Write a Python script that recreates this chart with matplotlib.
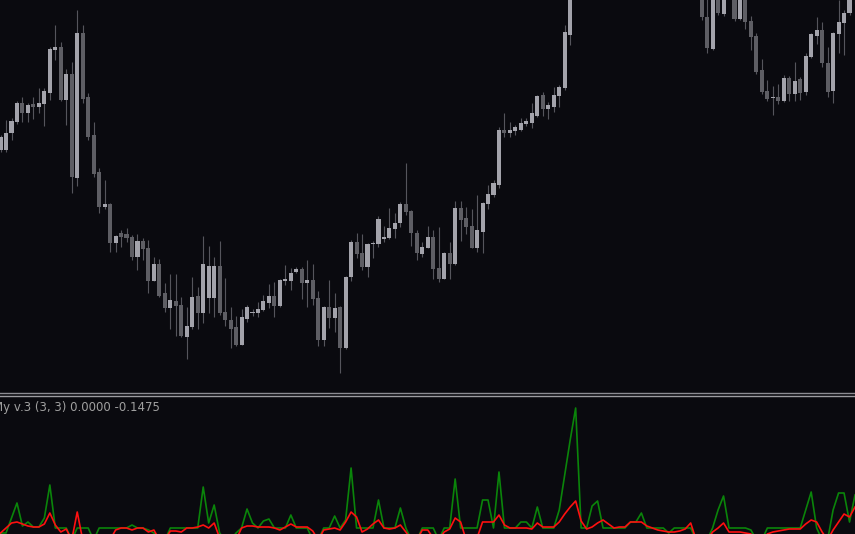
import matplotlib
matplotlib.use("Agg")
import matplotlib.pyplot as plt
from matplotlib.lines import Line2D
import numpy as np

# candle prices (arbitrary units), one entry per bar
opens = [250, 250, 267, 278, 297, 287, 296, 293, 296, 307,
         350, 353, 300, 326, 222, 367, 303, 265, 228, 193,
         196, 157, 167, 166, 163, 143, 159, 152, 119, 136,
         107, 92, 99, 95, 63, 73, 104, 87, 102, 102,
         134, 88, 80, 73, 55, 81, 87, 87, 90, 97,
         104, 94, 119, 119, 128, 131, 117, 120, 102, 60,
         93, 82, 93, 52, 123, 158, 147, 133, 156, 156,
         161, 162, 171, 177, 196, 189, 167, 146, 152, 163,
         132, 121, 147, 136, 192, 182, 174, 152, 168, 196,
         205, 215, 270, 267, 269, 270, 276, 277, 284, 305,
         291, 293, 304, 312, 365, 410, 440, 452, 445, 462,
         470, 458, 466, 480, 474, 468, 485, 478, 470, 462,
         471, 460, 448, 455, 444, 436, 442, 430, 415, 383,
         351, 410, 386, 412, 410, 381, 412, 379, 364, 330,
         309, 302, 303, 299, 322, 306, 321, 308, 343, 364,
         370, 337, 309, 366, 377, 387, 400]
closes = [263, 267, 279, 297, 287, 295, 293, 297, 309, 351,
          353, 300, 326, 223, 367, 301, 263, 226, 193, 196,
          157, 164, 163, 162, 143, 159, 151, 119, 136, 104,
          92, 100, 94, 64, 74, 103, 87, 136, 134, 134,
          87, 80, 71, 55, 83, 93, 88, 91, 99, 104,
          94, 120, 121, 127, 131, 117, 120, 101, 60, 93,
          82, 92, 52, 123, 158, 146, 133, 156, 157, 181,
          163, 172, 177, 196, 188, 167, 147, 153, 163, 131,
          121, 147, 136, 192, 180, 173, 152, 170, 197, 206,
          217, 270, 267, 270, 273, 277, 279, 287, 304, 291,
          295, 305, 313, 368, 410, 440, 452, 445, 462, 470,
          458, 466, 480, 474, 468, 485, 478, 470, 462, 471,
          460, 448, 455, 444, 436, 442, 430, 420, 383, 352,
          408, 387, 412, 420, 381, 409, 378, 363, 328, 308,
          301, 302.5, 299, 322, 306, 319, 307, 344, 366, 370,
          337, 308, 367, 378, 387, 402, 415]
highs = [265, 280, 282, 299, 303, 297, 303, 312, 312, 353,
         375, 358, 331, 338, 390, 375, 307, 278, 232, 220,
         197, 165, 170, 172, 165, 166, 162, 160, 143, 141,
         117, 126, 126, 103, 93, 123, 113, 164, 154, 143,
         159, 122, 93, 84, 91, 95, 91, 98, 105, 116,
         118, 121, 135, 132, 133, 133, 140, 136, 109, 94,
         120, 107, 94, 124, 160, 167, 166, 157, 159, 184,
         174, 192, 187, 198, 237, 190, 170, 158, 174, 170,
         173, 148, 158, 199, 199, 193, 191, 205, 198, 215,
         220, 273, 287, 278, 275, 282, 282, 297, 305, 308,
         298, 313, 315, 375, 420, 446, 458, 460, 468, 478,
         474, 471, 486, 488, 479, 490, 492, 482, 476, 477,
         474, 464, 460, 459, 450, 447, 446, 434, 420, 405,
         412, 413, 416, 424, 414, 412, 415, 384, 367, 341,
         320, 314, 316, 325, 324, 338, 323, 347, 367, 383,
         378, 353, 368, 400, 390, 408, 418]
lows = [248, 248, 260, 276, 278, 278, 281, 287, 274, 300,
        340, 299, 275, 207, 214, 297, 260, 223, 187, 191,
        148, 148, 153, 158, 140, 130, 140, 107, 119, 103,
        88, 71, 64, 63, 41, 71, 71, 77, 87, 83,
        85, 74, 52, 54, 55, 78, 84, 83, 89, 92,
        83, 93, 115, 110, 127, 101, 93, 95, 54, 54,
        72, 68, 27, 51, 119, 142, 130, 123, 142, 153,
        158, 161, 162, 173, 185, 154, 140, 143, 152, 121,
        118, 121, 121, 135, 159, 166, 152, 148, 147, 191,
        203, 212, 263, 263, 265, 269, 274, 272, 283, 284,
        281, 288, 293, 310, 355, 404, 432, 440, 441, 455,
        450, 452, 462, 468, 460, 464, 472, 462, 455, 458,
        452, 441, 440, 436, 428, 430, 422, 412, 380, 347,
        350, 385, 384, 405, 379, 380, 371, 350, 326, 306,
        299, 285, 296, 298, 299, 299, 300, 305, 342, 356,
        333, 303, 297, 347, 345, 385, 396]

# indicator lines, one value per bar
green = [-0.05, -0.05, 0.10, 0.25, 0.02, 0.06, 0.01, 0.01, 0.10, 0.43,
         0, 0, 0, -0.12, 0, 0, 0, -0.12, 0, 0,
         0, 0, 0, 0, 0.03, 0, 0, -0.02, -0.05, -0.12,
         -0.12, 0, 0, 0, 0, 0, 0, 0.41, 0.05, 0.23,
         -0.05, -0.12, -0.12, -0.05, 0, 0.19, 0.05, 0, 0.07, 0.09,
         0, 0, 0, 0.13, 0, 0, 0, -0.12, -0.12, 0,
         0, 0.12, 0, 0.08, 0.60, 0, 0, 0, 0, 0.28,
         0, 0, 0, 0.20, 0, -0.12, -0.12, 0, 0, 0,
         -0.12, 0, 0, 0.49, 0, 0, 0, 0, 0.28, 0.28,
         0, 0.56, 0, 0, 0, 0.06, 0.06, 0, 0.21, 0,
         0, 0, 0.18, 0.53, 0.88, 1.20, 0, 0, 0.22, 0.27,
         0, 0, 0, 0, 0, 0.06, 0.06, 0.15, 0, 0,
         0, 0, -0.05, 0, 0, 0, 0, -0.12, -0.12, -0.12,
         0, 0.18, 0.32, 0, 0, 0, 0, -0.02, -0.12, -0.12,
         0, 0, 0, 0, 0, 0, 0, 0.18, 0.36, 0,
         -0.12, -0.12, 0.18, 0.35, 0.35, 0.06, 0.33]
red = [-0.05, 0, 0.05, 0.06, 0.04, 0.02, 0.01, 0.01, 0.04, 0.15,
       0.03, -0.04, -0.01, -0.12, 0.16, -0.12, -0.12, -0.12, -0.12, -0.12,
       -0.12, -0.02, 0, 0, -0.02, 0, 0, -0.04, -0.02, -0.12,
       -0.12, -0.03, -0.03, -0.04, 0, 0, 0.01, 0.03, 0, 0.05,
       -0.10, -0.12, -0.12, -0.12, 0, 0.02, 0.02, 0.01, 0.01, 0.01,
       0, -0.02, 0.01, 0.04, 0.01, 0.01, 0.01, -0.03, -0.12, -0.02,
       -0.01, 0, -0.02, 0.06, 0.16, 0.11, -0.04, -0.01, 0.04, 0.08,
       0, -0.01, 0, 0.03, -0.04, -0.12, -0.12, -0.02, -0.02, -0.10,
       -0.12, -0.04, -0.01, 0.10, 0.06, -0.12, -0.12, -0.10, 0.06, 0.06,
       0.06, 0.13, 0.03, 0, 0, 0, 0, -0.01, 0.05, 0.01,
       0.01, 0.01, 0.06, 0.14, 0.21, 0.27, 0.07, -0.01, 0.01, 0.05,
       0.08, 0.04, 0, 0.01, 0.01, 0.06, 0.06, 0.06, 0.02, 0,
       -0.02, -0.03, -0.04, -0.04, -0.03, -0.01, 0.05, -0.12, -0.12, -0.12,
       -0.04, 0, 0.05, -0.04, -0.04, -0.04, -0.05, -0.06, -0.12, -0.12,
       -0.06, -0.04, -0.03, -0.02, -0.01, -0.01, -0.01, 0.04, 0.08, 0.06,
       -0.04, -0.12, -0.02, 0.06, 0.14, 0.11, 0.21]
label = "My v.3 (3, 3) 0.0000 -0.1475"

BG = "#0a0a0f"
W, H = 855, 534
fig = plt.figure(figsize=(W / 100, H / 100), dpi=100, facecolor=BG)

def box(top, bottom):
    return [0, 1 - bottom / H, 1, (bottom - top) / H]

ax = fig.add_axes(box(0, 391))
ax.set_facecolor(BG)
x = np.arange(len(opens))
o, c = np.array(opens, float), np.array(closes, float)
up = c >= o
ax.vlines(x, lows, highs, color="#55555c", lw=0.8, zorder=1)
bot = np.minimum(o, c)
hgt = np.maximum(np.abs(c - o), 1.0)
ax.bar(x[up], hgt[up], bottom=bot[up], width=0.74, color="#a3a3ab", lw=0, zorder=2)
ax.bar(x[~up], hgt[~up], bottom=bot[~up], width=0.74, color="#5e5e64", lw=0, zorder=2)
ax.set_xlim(-0.1, 156.0)
ax.set_ylim(9, 400)
ax.axis("off")

# separator between panes
for yy, col in [(392.5, "#8c8c92"), (395.5, "#9c9ca0")]:
    fig.add_artist(Line2D([0, 1], [1 - yy / H] * 2, color=col, lw=1.0))

ax2 = fig.add_axes(box(397, 534))
ax2.set_facecolor(BG)
ax2.plot(x, green, color="#0a850a", lw=1.2)
ax2.plot(x, red, color="#ff1010", lw=1.2)
ax2.set_xlim(-0.1, 156.0)
ax2.set_ylim(-0.06, 1.31)
ax2.axis("off")

fig.text(-7 / W, 1 - 408 / H, label, color="#a0a0a0", fontsize=8.5,
         family="DejaVu Sans", va="center", ha="left")

fig.savefig("out.png", dpi=100, facecolor=BG)
